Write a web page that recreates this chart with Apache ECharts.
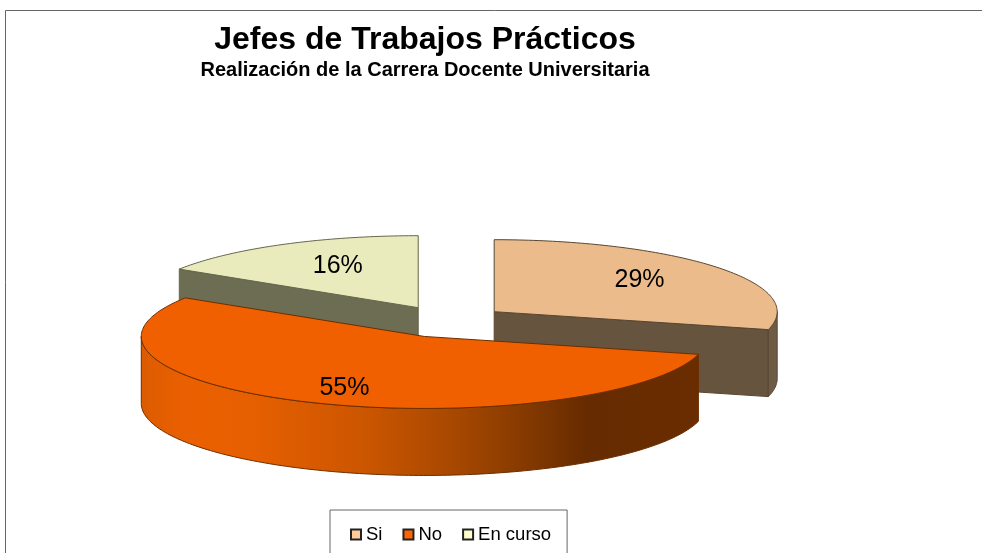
<!DOCTYPE html>
<html>
<head>
<meta charset="utf-8">
<title>Jefes de Trabajos Prácticos</title>
<script src="https://cdn.jsdelivr.net/npm/echarts@6/dist/echarts.min.js"></script>
<style>
  html, body { margin: 0; padding: 0; background: #fff; overflow: hidden; }
  #chart { width: 982px; height: 553px; }
</style>
</head>
<body>
<div id="chart"></div>
<script>
const categories = ['Si', 'No', 'En curso']
const percents = [29, 55, 16]

const legendColors = ['#ffcc99', '#ff6600', '#ffffcc']
const topColors = ['#ecbb8c', '#f06000', '#e9ebbd']
const wallColors = ['#66543f', null, '#6d6d54']
const rimColors = ['#6e5b45', null, null]
const edgeColors = ['#5a4632', '#6b2e00', '#66664c']
// drawn back to front
const paintOrder = [0, 2, 1]
// fraction of the radius where the percent label goes [x, y]
const labelAt = [[0.65, 0.72], [0.71, 0.78], [0.59, 0.66]]
// small per slice correction of the explosion [x, y]
const nudge = [[0, 0], [1, 1.5], [0, 0]]

const FONT = '"Liberation Sans", Arial, sans-serif'
const CX = 447
const CY = 321
const RX = 283
const RY = 72
const DEPTH = 67
const EXPLODE = 0.211
const START_DEG = -90

const total = percents.reduce((a, b) => a + b, 0)
const rad = d => (d * Math.PI) / 180

// slice angles come from the values, clockwise from east
const slices = []
let acc = START_DEG
percents.forEach((v, i) => {
  const from = acc
  const to = acc + (v / total) * 360
  const mid = (from + to) / 2
  slices.push({
    from,
    to,
    mid,
    x: CX + nudge[i][0] + EXPLODE * RX * Math.cos(rad(mid)),
    y: CY + nudge[i][1] + EXPLODE * RY * Math.sin(rad(mid))
  })
  acc = to
})

const onRim = (s, deg) => [s.x + RX * Math.cos(rad(deg)), s.y + RY * Math.sin(rad(deg))]

const arcPoints = (s, from, to) => {
  const pts = []
  const n = Math.max(2, Math.ceil(Math.abs(to - from)))
  for (let k = 0; k <= n; k++) pts.push(onRim(s, from + ((to - from) * k) / n))
  return pts
}

const drop = pts => pts.map(p => [p[0], p[1] + DEPTH]).reverse()

const renderSlice = i => () => {
  const s = slices[i]
  const children = []
  const edge = { stroke: edgeColors[i], lineWidth: 1 }
  // cut face that looks at the viewer
  if (wallColors[i]) {
    const deg = i === 0 ? s.to : s.from
    const tip = onRim(s, deg)
    const face = [[s.x, s.y], tip]
    children.push({
      type: 'polygon',
      shape: { points: face.concat(drop(face)) },
      style: { fill: wallColors[i], ...edge }
    })
  }
  // front rim, only the part between east and west
  const rimFrom = Math.max(s.from, 0)
  const rimTo = Math.min(s.to, 180)
  if (rimTo > rimFrom) {
    const arc = arcPoints(s, rimFrom, rimTo)
    const fill = rimColors[i] || new echarts.graphic.LinearGradient(1, 0, 0, 0, [
      { offset: 0, color: '#6a2d00' },
      { offset: 0.2, color: '#662b00' },
      { offset: 0.33, color: '#8a3c00' },
      { offset: 0.43, color: '#a54700' },
      { offset: 0.6, color: '#cc5600' },
      { offset: 0.8, color: '#e65f00' },
      { offset: 0.92, color: '#ea6000' },
      { offset: 1, color: '#dc5b00' }
    ])
    children.push({
      type: 'polygon',
      shape: { points: arc.concat(drop(arc)) },
      style: { fill, ...edge }
    })
  }
  // top face
  children.push({
    type: 'polygon',
    shape: { points: [[s.x, s.y]].concat(arcPoints(s, s.from, s.to)) },
    style: { fill: topColors[i], ...edge }
  })
  // percent label
  children.push({
    type: 'text',
    style: {
      x: s.x + labelAt[i][0] * RX * Math.cos(rad(s.mid)),
      y: s.y + labelAt[i][1] * RY * Math.sin(rad(s.mid)),
      text: percents[i] + '%',
      fill: '#000',
      font: '25px ' + FONT,
      align: 'center',
      verticalAlign: 'middle'
    }
  })
  return { type: 'group', children }
}

const chart = echarts.init(document.getElementById('chart'))
chart.setOption({
  animation: false,
  backgroundColor: '#fff',
  title: {
    text: 'Jefes de Trabajos Prácticos',
    subtext: 'Realización de la Carrera Docente Universitaria',
    left: 425,
    top: 24,
    textAlign: 'center',
    itemGap: 4,
    padding: 0,
    textStyle: { fontFamily: FONT, fontSize: 32, fontWeight: 'bold', color: '#000' },
    subtextStyle: { fontFamily: FONT, fontSize: 20, fontWeight: 'bold', color: '#000' }
  },
  legend: {
    left: 330,
    top: 510,
    orient: 'horizontal',
    padding: [15, 16, 20, 20],
    itemGap: 20,
    itemWidth: 10,
    itemHeight: 10,
    icon: 'rect',
    selectedMode: false,
    borderColor: '#666',
    borderWidth: 1,
    backgroundColor: '#fff',
    textStyle: { fontFamily: FONT, fontSize: 18.5, color: '#000' },
    data: categories.map((name, i) => ({
      name,
      itemStyle: { color: legendColors[i], borderColor: '#222', borderWidth: 2 }
    }))
  },
  graphic: [
    {
      type: 'rect',
      z: -1,
      shape: { x: 5.5, y: 10.5, width: 1100, height: 700 },
      style: { fill: 'none', stroke: '#666', lineWidth: 1 }
    }
  ],
  series: paintOrder.map((i, order) => ({
    type: 'custom',
    name: categories[i],
    coordinateSystem: 'none',
    silent: true,
    z: 2 + order,
    itemStyle: { color: topColors[i] },
    data: [percents[i]],
    renderItem: renderSlice(i)
  }))
})
</script>
</body>
</html>
